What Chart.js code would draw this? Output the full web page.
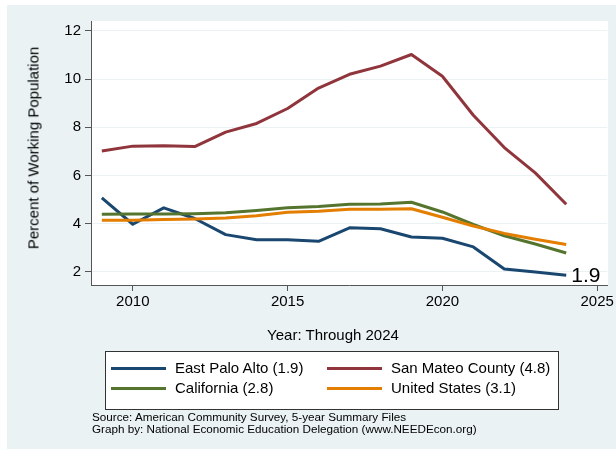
<!DOCTYPE html>
<html>
<head>
<meta charset="utf-8">
<script src="https://cdn.jsdelivr.net/npm/chart.js@4/dist/chart.umd.min.js"></script>
<style>
  body { margin: 0; background: #fff; font-family: 'Liberation Sans', Arial, sans-serif; }
  #wrap { position: relative; width: 616px; height: 449px; }
  #bg { position: absolute; left: 7px; top: 5px; width: 609px; height: 444px; background: #eaf2f3; }
  #cv { position: absolute; left: 0; top: 0; }
  .txt { position: absolute; color: #000; white-space: nowrap; }
  #ytitle { font-size: 15px; left: 33px; top: 148px; transform: translate(-50%, -50%) rotate(-90deg); }
  #xtitle { font-size: 15px; left: 333px; top: 334px; transform: translate(-50%, -50%); }
  #legend { position: absolute; left: 105px; top: 351px; width: 452px; height: 57px; background: #fff; border: 1px solid #333; }
  .leg-item { position: absolute; height: 18px; }
  .leg-line { position: absolute; left: 0; top: 8px; width: 55px; height: 3px; }
  .leg-text { position: absolute; left: 64px; top: 0; font-size: 15px; line-height: 18px; white-space: nowrap; }
  #notes { font-size: 11.7px; line-height: 12px; left: 92px; top: 411px; }
</style>
</head>
<body>
<div id="wrap">
  <div id="bg"></div>
  <canvas id="cv" width="616" height="449"></canvas>
  <div class="txt" id="ytitle">Percent of Working Population</div>
  <div class="txt" id="xtitle">Year: Through 2024</div>
  <div id="legend"></div>
  <div class="txt" id="notes">Source: American Community Survey, 5-year Summary Files<br>Graph by: National Economic Education Delegation (www.NEEDEcon.org)</div>
</div>
<script>
// chart data
const years = [2009, 2010, 2011, 2012, 2013, 2014, 2015, 2016, 2017, 2018, 2019, 2020, 2021, 2022, 2023, 2024];
const eastPaloAlto = [5.07, 3.98, 4.66, 4.22, 3.55, 3.34, 3.34, 3.27, 3.83, 3.79, 3.45, 3.40, 3.04, 2.12, 2.00, 1.86];
const sanMateo = [7.02, 7.22, 7.24, 7.20, 7.80, 8.16, 8.78, 9.63, 10.20, 10.54, 11.02, 10.12, 8.50, 7.16, 6.11, 4.81];
const california = [4.39, 4.40, 4.40, 4.42, 4.46, 4.55, 4.66, 4.72, 4.81, 4.82, 4.89, 4.49, 3.97, 3.50, 3.16, 2.79];
const unitedStates = [4.15, 4.15, 4.18, 4.20, 4.24, 4.33, 4.48, 4.52, 4.60, 4.60, 4.62, 4.27, 3.91, 3.60, 3.36, 3.14];
const seriesNames = ['East Palo Alto (1.9)', 'San Mateo County (4.8)', 'California (2.8)', 'United States (3.1)'];
const seriesColors = ['#1a476f', '#90353b', '#55752f', '#e37e00'];
const yTicks = [2, 4, 6, 8, 10, 12];
const xTicks = [2010, 2015, 2020, 2025];
const endLabel = '1.9';

const allSeries = [eastPaloAlto, sanMateo, california, unitedStates];
const FONT = "'Liberation Sans', Arial, sans-serif";

// legend (html) - two columns, row order as in the picture
const legendPos = [[5, 7], [221, 7], [5, 27], [221, 27]];
const legend = document.getElementById('legend');
seriesNames.forEach(function (name, i) {
    let item = document.createElement('div');
    item.className = 'leg-item';
    item.style.left = legendPos[i][0] + 'px';
    item.style.top = legendPos[i][1] + 'px';
    item.innerHTML = '<div class="leg-line" style="background:' + seriesColors[i] + '"></div><div class="leg-text">' + name + '</div>';
    legend.appendChild(item);
});

// white plot region
const plotBg = {
    id: 'plotBg',
    beforeDraw: function (chart) {
        const a = chart.chartArea;
        chart.ctx.save();
        chart.ctx.fillStyle = '#ffffff';
        chart.ctx.fillRect(a.left, a.top, a.right - a.left + 1, a.bottom - a.top);
        chart.ctx.restore();
    }
};

// value label at the end of East Palo Alto
const endLabelPlugin = {
    id: 'endLabel',
    afterDatasetsDraw: function (chart) {
        let idx = chart.data.datasets.findIndex(function (d) { return d.label === seriesNames[0]; });
        const meta = chart.getDatasetMeta(idx);
        const pt = meta.data[meta.data.length - 1];
        const ctx = chart.ctx;
        ctx.save();
        ctx.font = '21px ' + FONT;
        ctx.fillStyle = '#000';
        ctx.textAlign = 'left';
        ctx.textBaseline = 'middle';
        ctx.fillText(endLabel, pt.x + 5, pt.y + 1);
        ctx.restore();
    }
};

let ctx = document.getElementById('cv').getContext('2d');
const myChart = new Chart(ctx, {
    type: 'line',
    data: {
        // reversed so the first series is drawn underneath, like the original
        datasets: allSeries.map(function (s, i) {
            return {
                label: seriesNames[i],
                data: s.map(function (v, j) { return { x: years[j], y: v }; }),
                borderColor: seriesColors[i],
                backgroundColor: seriesColors[i],
                borderWidth: 3,
                pointRadius: 0,
                tension: 0,
                fill: false,
                borderJoinStyle: 'round'
            };
        }).reverse()
    },
    options: {
        responsive: false,
        animation: false,
        layout: { padding: { left: 0, top: 21, right: 7, bottom: 134 } },
        plugins: { legend: { display: false }, tooltip: { enabled: false } },
        scales: {
            x: {
                type: 'linear',
                min: 2008.65,
                max: 2025.32,
                afterBuildTicks: function (scale) { scale.ticks = xTicks.map(function (v) { return { value: v }; }); },
                afterFit: function (scale) { scale.height = 30; },
                ticks: {
                    color: '#000', font: { family: FONT, size: 15 }, padding: 2, maxRotation: 0, autoSkip: false,
                    callback: function (value) { return String(value); }
                },
                grid: { drawOnChartArea: false, drawTicks: true, tickLength: 6, tickColor: '#555', lineWidth: 1 },
                border: { display: true, color: '#555', width: 1 }
            },
            y: {
                min: 1.46,
                max: 12.41,
                afterBuildTicks: function (scale) { scale.ticks = yTicks.map(function (v) { return { value: v }; }); },
                afterFit: function (scale) { scale.width = 91; },
                ticks: { color: '#000', font: { family: FONT, size: 15 }, padding: 4 },
                grid: { color: '#eaf2f3', lineWidth: 1, drawTicks: true, tickLength: 6, tickColor: '#555' },
                border: { display: true, color: '#555', width: 1 }
            }
        }
    },
    plugins: [plotBg, endLabelPlugin]
});
</script>
</body>
</html>
